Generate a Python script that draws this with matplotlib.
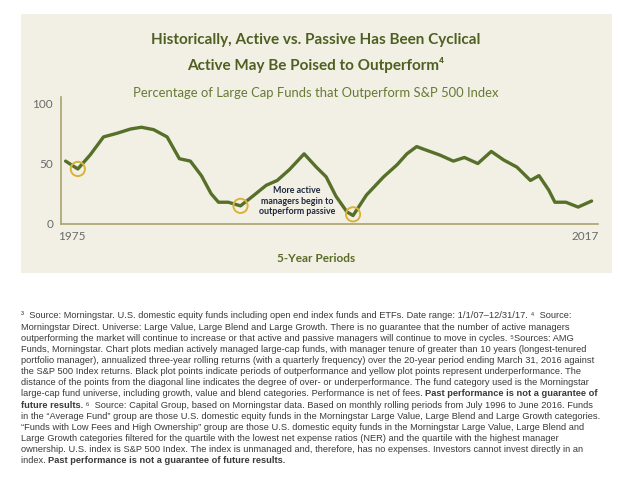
import matplotlib
matplotlib.use("Agg")
import matplotlib.pyplot as plt
from matplotlib.patches import Rectangle

# data
years = [1974.5, 1975.5, 1976.5, 1977.6, 1978.7, 1979.8, 1980.7, 1981.7, 1982.8, 1983.8,
         1984.7, 1985.6, 1986.4, 1987.0, 1987.8, 1988.8, 1989.8, 1990.9, 1991.8, 1992.8,
         1994.0, 1995.0, 1995.8, 1996.6, 1997.5, 1998.0, 1999.1, 2000.5, 2001.6, 2002.4,
         2003.2, 2004.0, 2005.1, 2006.2, 2007.1, 2008.2, 2009.3, 2010.3, 2011.4, 2012.5,
         2013.2, 2014.0, 2014.5, 2015.4, 2016.4, 2017.5]
pct = [52, 45.5, 57, 72, 75, 78.5, 80, 78, 72, 54,
       52, 40, 25, 18, 18, 15, 23, 32, 36, 45,
       58, 47, 39, 23, 10, 7, 24, 39, 49, 58,
       64, 61, 57, 52, 55, 50, 60, 53, 47, 36,
       40, 28, 18, 18, 14, 19]
circle_years = [1975.5, 1988.8, 1998.0]
circle_pct = [45.5, 15, 8]
yticks = [0, 50, 100]
xticks = [1975, 2017]

title1 = "Historically, Active vs. Passive Has Been Cyclical"
title2 = "Active May Be Poised to Outperform\u2074"
subtitle = "Percentage of Large Cap Funds that Outperform S&P 500 Index"
note = "More active\nmanagers begin to\noutperform passive"

# footnote lines, each a list of (text, bold)
footnotes = [
    [("\u00b3  Source: Morningstar. U.S. domestic equity funds including open end index funds and ETFs. Date range: 1/1/07\u201312/31/17. \u2074  Source:", False)],
    [("Morningstar Direct. Universe: Large Value, Large Blend and Large Growth. There is no guarantee that the number of active managers", False)],
    [("outperforming the market will continue to increase or that active and passive managers will continue to move in cycles. \u2075Sources: AMG", False)],
    [("Funds, Morningstar. Chart plots median actively managed large-cap funds, with manager tenure of greater than 10 years (longest-tenured", False)],
    [("portfolio manager), annualized three-year rolling returns (with a quarterly frequency) over the 20-year period ending March 31, 2016 against", False)],
    [("the S&P 500 Index returns. Black plot points indicate periods of outperformance and yellow plot points represent underperformance. The", False)],
    [("distance of the points from the diagonal line indicates the degree of over- or underperformance. The fund category used is the Morningstar", False)],
    [("large-cap fund universe, including growth, value and blend categories. Performance is net of fees. ", False),
     ("Past performance is not a guarantee of", True)],
    [("future results.", True),
     (" \u2076  Source: Capital Group, based on Morningstar data. Based on monthly rolling periods from July 1996 to June 2016. Funds", False)],
    [("in the \u201cAverage Fund\u201d group are those U.S. domestic equity funds in the Morningstar Large Value, Large Blend and Large Growth categories.", False)],
    [("\u201cFunds with Low Fees and High Ownership\u201d group are those U.S. domestic equity funds in the Morningstar Large Value, Large Blend and", False)],
    [("Large Growth categories filtered for the quartile with the lowest net expense ratios (NER) and the quartile with the highest manager", False)],
    [("ownership. U.S. index is S&P 500 Index. The index is unmanaged and, therefore, has no expenses. Investors cannot invest directly in an", False)],
    [("index. ", False), ("Past performance is not a guarantee of future results.", True)],
]

W, H = 628, 492
chart_font = ["Lato", "DejaVu Sans"]
note_font = ["Liberation Sans", "DejaVu Sans"]

fig = plt.figure(figsize=(W / 100, H / 100), dpi=100)
fig.patch.set_facecolor("white")

# beige panel behind the chart
fig.patches.append(Rectangle((21 / W, 1 - 273 / H), (612 - 21) / W, (273 - 14) / H,
                             transform=fig.transFigure, facecolor="#F2F0E4",
                             edgecolor="none", zorder=-5))

fig.text(316 / W, 1 - 40 / H, title1, ha="center", va="center", fontsize=11,
         fontweight="bold", color="#4F5F22", family=chart_font)
fig.text(316 / W, 1 - 65 / H, title2, ha="center", va="center", fontsize=11,
         fontweight="bold", color="#4F5F22", family=chart_font)
fig.text(316 / W, 1 - 93 / H, subtitle, ha="center", va="center", fontsize=9.4,
         color="#667A35", family=chart_font)

ax = fig.add_axes([60.7 / W, 1 - 224 / H, 537 / W, 127 / H])
ax.set_facecolor("none")
ax.plot(years, pct, color="#56702A", lw=2.4, solid_capstyle="round",
        solid_joinstyle="round", zorder=3)
ax.scatter(circle_years, circle_pct, s=105, facecolors="none", edgecolors="#D9B23A",
           linewidths=1.4, zorder=4)
ax.set_xlim(1974.1, 2018.0)
ax.set_ylim(0, 105)
ax.set_yticks(yticks)
ax.set_xticks(xticks)
for s in ["top", "right"]:
    ax.spines[s].set_visible(False)
for s in ["left", "bottom"]:
    ax.spines[s].set_color("#A9A36E")
    ax.spines[s].set_linewidth(1.2)
ax.tick_params(length=0, labelsize=8.5, labelcolor="#6A6A6A")
ax.tick_params(axis="y", pad=5.5)
ax.tick_params(axis="x", pad=5)
for lab in ax.get_xticklabels() + ax.get_yticklabels():
    lab.set_family(chart_font)

ax.text(1993.4, 19, note, ha="center", va="center", fontsize=6.4, fontweight="bold",
        color="#1F2740", linespacing=1.2, family=chart_font, zorder=5)

fig.text(316 / W, 1 - 258 / H, "5-Year Periods", ha="center", va="center",
         fontsize=8.5, fontweight="bold", color="#5A6B28", family=chart_font)

# footnotes, mixing regular and bold runs on a line
renderer = fig.canvas.get_renderer()
y0 = 316
step = 11.13
for i, line in enumerate(footnotes):
    x = 21
    y = y0 + i * step
    for txt, bold in line:
        t = fig.text(x / W, 1 - y / H, txt, ha="left", va="center", fontsize=6.68,
                     fontweight="bold" if bold else "normal", color="#3A3A3A",
                     family=note_font)
        bb = t.get_window_extent(renderer)
        x = bb.x1

fig.savefig("out.png", dpi=100)
